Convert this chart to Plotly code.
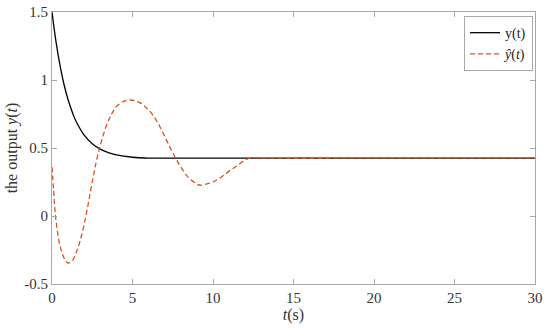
import plotly.graph_objects as go

# values
t_y = [0, 0.25, 0.5, 0.75, 1.0, 1.32, 1.5, 2.0, 2.5, 3.0, 3.5, 4.0, 5.0, 6.0, 8.0, 12.0, 20.0, 30.0]
y = [1.5, 1.28, 1.105, 0.965, 0.855, 0.745, 0.695, 0.595, 0.532, 0.492, 0.466, 0.449, 0.432, 0.426, 0.425, 0.425, 0.425, 0.425]

t_yhat = [0, 0.1, 0.2, 0.3, 0.4, 0.5, 0.65, 0.8, 1.0, 1.25, 1.5, 1.75, 2.0, 2.25, 2.5, 2.75,
          3.0, 3.25, 3.5, 3.75, 4.0, 4.5, 4.85, 5.5, 6.0, 6.5, 7.0, 7.5, 8.0, 8.5, 9.0, 9.2,
          9.5, 10.0, 10.5, 11.0, 11.5, 12.0, 12.5, 13.0, 14.0, 20.0, 30.0]
yhat = [0.36, 0.19, 0.02, -0.08, -0.16, -0.22, -0.28, -0.32, -0.347, -0.33, -0.27, -0.18, -0.06, 0.09, 0.25, 0.40,
        0.52, 0.62, 0.70, 0.76, 0.805, 0.845, 0.853, 0.83, 0.78, 0.70, 0.585, 0.465, 0.36, 0.28, 0.235, 0.226,
        0.232, 0.25, 0.285, 0.33, 0.37, 0.412, 0.428, 0.426, 0.425, 0.425, 0.425]

serif = '"Liberation Serif", "Times New Roman", serif'

fig = go.Figure()
fig.add_trace(go.Scatter(x=t_y, y=y, mode='lines', name='y(t)',
                         line=dict(color='black', width=1.3, shape='spline')))
fig.add_trace(go.Scatter(x=t_yhat, y=yhat, mode='lines', name='<i>ŷ</i>(<i>t</i>)',
                         line=dict(color='#D95319', width=1.3, dash='5px,3px', shape='spline')))

axis = dict(showgrid=False, zeroline=False, showline=True, linecolor='#a8a8a8', linewidth=1,
            mirror='ticks', ticks='inside', ticklen=5, tickcolor='#a8a8a8', automargin=False,
            tickfont=dict(family=serif, size=15, color='#333333'))

fig.update_xaxes(axis, range=[0, 30], tickvals=[0, 5, 10, 15, 20, 25, 30],
                 title=dict(text='<i>t</i>(s)', standoff=0,
                            font=dict(family=serif, size=16, color='#333333')))
fig.update_yaxes(axis, range=[-0.5, 1.5], tickvals=[-0.5, 0, 0.5, 1, 1.5],
                 ticktext=['-0.5', '0', '0.5', '1', '1.5'],
                 title=dict(text='the output <i>y</i>(<i>t</i>)', standoff=2,
                            font=dict(family=serif, size=16, color='#333333')))

fig.update_layout(
    width=550, height=332,
    margin=dict(l=52, r=15, t=12, b=48),
    plot_bgcolor='white', paper_bgcolor='white',
    legend=dict(x=0.996, y=0.985, xanchor='right', yanchor='top',
                bgcolor='white', bordercolor='#a8a8a8', borderwidth=1,
                font=dict(family=serif, size=14, color='#222222'),
                itemwidth=30, tracegroupgap=0),
)

# drop the default body margin so the figure sits at the page corner
fig.write_html("out.html", config={'displayModeBar': False},
               post_script="document.body.style.margin='0';")
